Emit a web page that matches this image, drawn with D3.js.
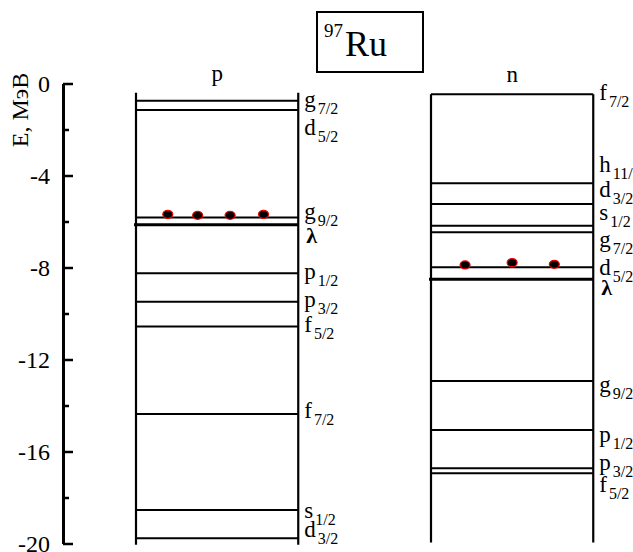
<!DOCTYPE html>
<html>
<head>
<meta charset="utf-8">
<script src="https://cdnjs.cloudflare.com/ajax/libs/d3/7.8.5/d3.min.js"></script>
<style>
    body { margin: 0; background: #fff; }
    text { font-family: "Liberation Serif", "Times New Roman", serif; fill: #000; }
</style>
</head>
<body>
<svg id="chart" width="633" height="552"></svg>
<script>
    // single-particle levels of 97Ru, energies in MeV
    const columns = ['p', 'n'];
    const columnTop = [-0.40, -0.47];
    const columnBottom = [-20.05, -19.96];

    const pNames = ['g7/2', 'd5/2', 'g9/2', 'p1/2', 'p3/2', 'f5/2', 'f7/2', 's1/2', 'd3/2'];
    const pEnergy = [-0.75, -1.15, -5.83, -8.25, -9.49, -10.57, -14.37, -18.54, -19.77];
    const pLabelE = [-1.01, -2.24, -5.89, -8.50, -9.73, -10.79, -14.56, -18.90, -19.73];
    const pLambda = -6.14, pLambdaLabel = -6.92;

    const nNames = ['f7/2', 'h11/2', 'd3/2', 's1/2', 'g7/2', 'd5/2', 'g9/2', 'p1/2', 'p3/2', 'f5/2'];
    const nEnergy = [-0.47, -4.34, -5.24, -6.18, -6.47, -7.99, -12.93, -15.07, -16.73, -16.95];
    const nLabelE = [-0.72, -3.83, -4.92, -5.93, -7.10, -8.33, -13.40, -15.57, -16.80, -17.75];
    const nLambda = -8.51, nLambdaLabel = -9.20;

    // particles above the Fermi level (relative position across the column)
    const pDotPos = [0.196, 0.38, 0.58, 0.786];
    const pDotE = [-5.69, -5.73, -5.73, -5.69];
    const nDotPos = [0.21, 0.50, 0.76];
    const nDotE = [-7.89, -7.79, -7.86];

    const majorTicks = [0, -4, -8, -12, -16, -20];
    const minorTicks = [-2, -6, -10, -14, -18];

    const svg = d3.select('#chart');

    const y = d3.scaleLinear().domain([0, -20]).range([83.5, 543.5]);
    const x = d3.scaleBand().domain(columns).range([136, 593.25]).paddingInner(0.45).paddingOuter(0);

    // axis
    const axisX = 63;
    svg.append('g')
        .attr('transform', `translate(${axisX},0)`)
        .call(d3.axisLeft(y).tickValues(minorTicks).tickSizeInner(-6).tickSizeOuter(0).tickFormat(''))
        .call(g => g.select('.domain').remove())
        .call(g => g.selectAll('line').attr('stroke-width', 2.5));
    const ax = svg.append('g')
        .attr('transform', `translate(${axisX},0)`)
        .call(d3.axisLeft(y).tickValues(majorTicks).tickSizeInner(-10).tickSizeOuter(0).tickPadding(13)
            .tickFormat(d => d === 0 ? '0' : '-' + Math.abs(d)));
    ax.select('.domain').attr('stroke-width', 3);
    ax.selectAll('line').attr('stroke-width', 2.5);
    ax.selectAll('text').attr('font-size', 24).attr('fill', '#000');

    svg.append('text')
        .attr('transform', 'translate(28,110) rotate(-90)')
        .attr('text-anchor', 'middle')
        .attr('font-size', 24)
        .text('E, МэВ');

    function drawColumn(col, names, energy, labelE, lambda, lambdaLabel, dotPos, dotE, ci) {
        const g = svg.append('g');
        const x0 = x(col), x1 = x(col) + x.bandwidth();
        const xr = d3.scaleLinear().domain([0, 1]).range([x0, x1]);

        g.selectAll('line.side').data([x0, x1]).enter().append('line')
            .attr('x1', d => d).attr('x2', d => d)
            .attr('y1', y(columnTop[ci])).attr('y2', y(columnBottom[ci]))
            .attr('stroke', '#000').attr('stroke-width', 2.2);

        g.selectAll('line.level').data(energy).enter().append('line')
            .attr('x1', x0).attr('x2', x1)
            .attr('y1', d => y(d)).attr('y2', d => y(d))
            .attr('stroke', '#000').attr('stroke-width', 2);

        g.append('line')
            .attr('x1', x0 - 2).attr('x2', x1)
            .attr('y1', y(lambda)).attr('y2', y(lambda))
            .attr('stroke', '#000').attr('stroke-width', 3);

        g.append('text')
            .attr('x', (x0 + x1) / 2).attr('y', y(columnTop[ci]) - 12)
            .attr('text-anchor', 'middle').attr('font-size', 23)
            .text(col);

        const lab = g.selectAll('text.lab').data(names).enter().append('text')
            .attr('x', x1 + 6).attr('y', (d, i) => y(labelE[i]))
            .attr('font-size', 23);
        lab.append('tspan').text(d => d[0]);
        lab.append('tspan').attr('font-size', 16).attr('dy', 7).attr('dx', 2).text(d => d.slice(1));

        g.append('text')
            .attr('x', x1 + 8).attr('y', y(lambdaLabel))
            .attr('font-size', 22).attr('font-weight', 'bold')
            .text('λ');

        g.selectAll('ellipse').data(dotPos).enter().append('ellipse')
            .attr('cx', d => xr(d)).attr('cy', (d, i) => y(dotE[i]))
            .attr('rx', 5).attr('ry', 4)
            .attr('fill', '#000').attr('stroke', '#e00').attr('stroke-width', 1.2);
    }

    drawColumn('p', pNames, pEnergy, pLabelE, pLambda, pLambdaLabel, pDotPos, pDotE, 0);
    drawColumn('n', nNames, nEnergy, nLabelE, nLambda, nLambdaLabel, nDotPos, nDotE, 1);

    // nucleus box
    const title = svg.append('g');
    title.append('rect')
        .attr('x', 317).attr('y', 12).attr('width', 106).attr('height', 60)
        .attr('fill', 'none').attr('stroke', '#000').attr('stroke-width', 2);
    const t = title.append('text').attr('x', 324).attr('y', 56).attr('font-size', 36);
    t.append('tspan').attr('font-size', 19).attr('dy', -19).text('97');
    t.append('tspan').attr('dy', 19).attr('dx', 2).text('Ru');
</script>
</body>
</html>
